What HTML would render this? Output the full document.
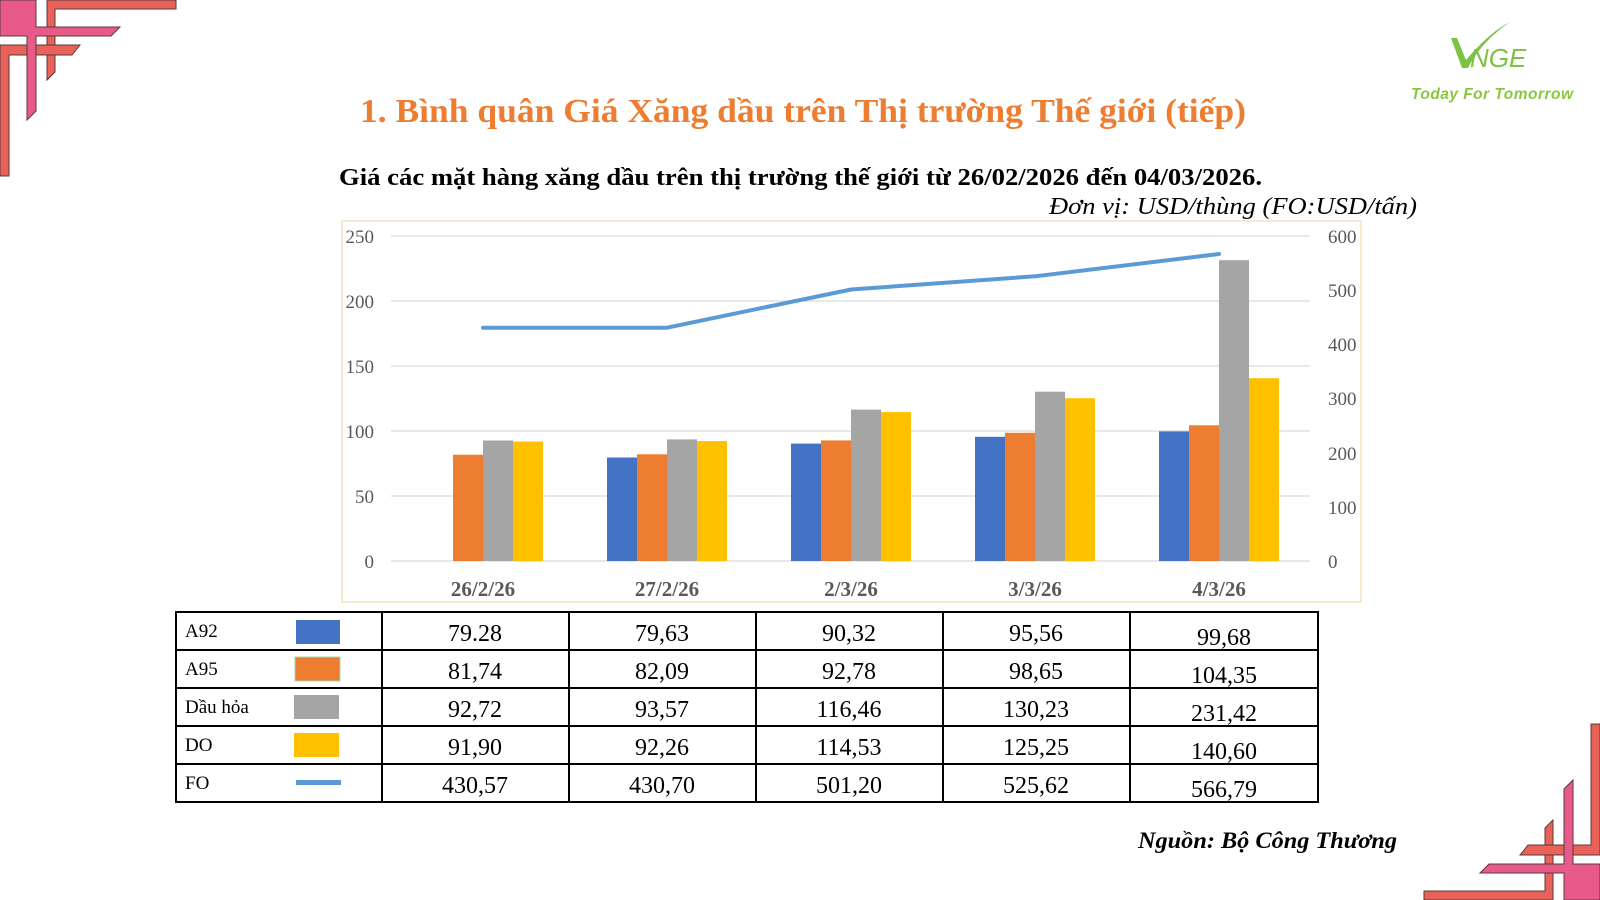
<!DOCTYPE html>
<html><head><meta charset="utf-8"><style>
html,body{margin:0;padding:0;background:#fff;}
svg{display:block;}
text{font-family:"Liberation Serif","DejaVu Serif",serif;}
</style></head><body>
<svg width="1600" height="900" viewBox="0 0 1600 900" xmlns="http://www.w3.org/2000/svg">
<defs>
<g id="corner" stroke="#5a3a3a" stroke-width="1">
  <polygon points="47,0 176,0 176,9 55,9 55,72 47,80" fill="#E8625A"/>
  <polygon points="0,45 80,45 72,55 9,55 9,176 0,176" fill="#E8625A"/>
  <polygon points="0,0 36,0 36,27 120,27 111,36 36,36 36,111 27,120 27,36 0,36 0,0 M9,9 L9,27 L27,27 L27,9 Z" fill="#E85A8A" fill-rule="evenodd"/>
</g>
</defs>
<use href="#corner"/>
<use href="#corner" transform="rotate(180 800 450)"/>

<!-- logo -->
<path d="M1451,38 L1462,68 L1468,68 C1478,48 1495,32 1510,22 C1494,30 1480,44 1466,60 L1457,38 Z" fill="#7DC243"/>
<text x="1470" y="67" font-size="26" font-style="italic" fill="#7DC243" style="font-family:'Liberation Sans',sans-serif">NGE</text>
<text x="1411" y="99" font-size="15.5" font-weight="bold" font-style="italic" fill="#8CC63F" textLength="162" style="font-family:'Liberation Sans',sans-serif">Today For Tomorrow</text>

<!-- titles -->
<text x="360" y="122" font-size="34" font-weight="bold" fill="#ED7D31" textLength="886" lengthAdjust="spacingAndGlyphs">1. Bình quân Giá Xăng dầu trên Thị trường Thế giới (tiếp)</text>
<text x="339" y="185" font-size="24.5" font-weight="bold" fill="#000" textLength="923" lengthAdjust="spacingAndGlyphs">Giá các mặt hàng xăng dầu trên thị trường thế giới từ 26/02/2026 đến 04/03/2026.</text>
<text x="1049" y="214" font-size="24.5" font-style="italic" fill="#000" textLength="368" lengthAdjust="spacingAndGlyphs">Đơn vị: USD/thùng (FO:USD/tấn)</text>

<!-- chart box -->
<rect x="342" y="221" width="1019" height="381" fill="#fff" stroke="#F2E3B8" stroke-width="1.5"/>
<g stroke="#D9D9D9" stroke-width="1.3">
<line x1="391" y1="236" x2="1310" y2="236"/>
<line x1="391" y1="301" x2="1310" y2="301"/>
<line x1="391" y1="366" x2="1310" y2="366"/>
<line x1="391" y1="431" x2="1310" y2="431"/>
<line x1="391" y1="496" x2="1310" y2="496"/>
<line x1="391" y1="561" x2="1310" y2="561"/>
</g>
<g font-size="19" fill="#595959" text-anchor="end">
<text x="374" y="243">250</text><text x="374" y="308">200</text><text x="374" y="373">150</text>
<text x="374" y="438">100</text><text x="374" y="503">50</text><text x="374" y="568">0</text>
</g>
<g font-size="19" fill="#595959">
<text x="1328" y="243">600</text><text x="1328" y="297">500</text><text x="1328" y="351">400</text>
<text x="1328" y="405">300</text><text x="1328" y="460">200</text><text x="1328" y="514">100</text><text x="1328" y="568">0</text>
</g>
<g>
<rect x="453" y="454.7" width="30" height="106.3" fill="#ED7D31"/>
<rect x="483" y="440.5" width="30" height="120.5" fill="#A5A5A5"/>
<rect x="513" y="441.5" width="30" height="119.5" fill="#FFC000"/>
<rect x="607" y="457.5" width="30" height="103.5" fill="#4472C4"/>
<rect x="637" y="454.3" width="30" height="106.7" fill="#ED7D31"/>
<rect x="667" y="439.4" width="30" height="121.6" fill="#A5A5A5"/>
<rect x="697" y="441.1" width="30" height="119.9" fill="#FFC000"/>
<rect x="791" y="443.6" width="30" height="117.4" fill="#4472C4"/>
<rect x="821" y="440.4" width="30" height="120.6" fill="#ED7D31"/>
<rect x="851" y="409.6" width="30" height="151.4" fill="#A5A5A5"/>
<rect x="881" y="412.1" width="30" height="148.9" fill="#FFC000"/>
<rect x="975" y="436.8" width="30" height="124.2" fill="#4472C4"/>
<rect x="1005" y="432.8" width="30" height="128.2" fill="#ED7D31"/>
<rect x="1035" y="391.7" width="30" height="169.3" fill="#A5A5A5"/>
<rect x="1065" y="398.2" width="30" height="162.8" fill="#FFC000"/>
<rect x="1159" y="431.4" width="30" height="129.6" fill="#4472C4"/>
<rect x="1189" y="425.3" width="30" height="135.7" fill="#ED7D31"/>
<rect x="1219" y="260.2" width="30" height="300.8" fill="#A5A5A5"/>
<rect x="1249" y="378.2" width="30" height="182.8" fill="#FFC000"/>
</g>
<polyline points="483,327.8 667,327.7 851,289.5 1035,276.3 1219,254" fill="none" stroke="#5B9BD5" stroke-width="4" stroke-linejoin="round" stroke-linecap="round"/>
<g font-size="21" font-weight="bold" fill="#595959" text-anchor="middle">
<text x="483" y="596">26/2/26</text><text x="667" y="596">27/2/26</text><text x="851" y="596">2/3/26</text>
<text x="1035" y="596">3/3/26</text><text x="1219" y="596">4/3/26</text>
</g>

<!-- table -->
<g stroke="#000" stroke-width="2" fill="none">
<rect x="176" y="612" width="1142" height="190"/>
<line x1="176" y1="650" x2="1318" y2="650"/><line x1="176" y1="688" x2="1318" y2="688"/>
<line x1="176" y1="726" x2="1318" y2="726"/><line x1="176" y1="764" x2="1318" y2="764"/>
<line x1="382" y1="612" x2="382" y2="802"/><line x1="569" y1="612" x2="569" y2="802"/>
<line x1="756" y1="612" x2="756" y2="802"/><line x1="943" y1="612" x2="943" y2="802"/>
<line x1="1130" y1="612" x2="1130" y2="802"/>
</g>
<rect x="296" y="620" width="44" height="24" fill="#4472C4"/>
<rect x="295" y="657" width="45" height="24" fill="#ED7D31" stroke="#a8d8a8" stroke-width="1"/>
<rect x="294" y="695" width="45" height="24" fill="#A5A5A5"/>
<rect x="294" y="733" width="45" height="24" fill="#FFC000"/>
<rect x="296" y="780" width="45" height="5" fill="#5B9BD5"/>
<g font-size="19" fill="#000">
<text x="185" y="637">A92</text><text x="185" y="675">A95</text><text x="185" y="713">Dầu hỏa</text>
<text x="185" y="751">DO</text><text x="185" y="789">FO</text>
</g>
<g font-size="24" fill="#000" text-anchor="middle">
<text x="475" y="641">79.28</text><text x="662" y="641">79,63</text><text x="849" y="641">90,32</text><text x="1036" y="641">95,56</text><text x="1224" y="645">99,68</text>
<text x="475" y="679">81,74</text><text x="662" y="679">82,09</text><text x="849" y="679">92,78</text><text x="1036" y="679">98,65</text><text x="1224" y="683">104,35</text>
<text x="475" y="717">92,72</text><text x="662" y="717">93,57</text><text x="849" y="717">116,46</text><text x="1036" y="717">130,23</text><text x="1224" y="721">231,42</text>
<text x="475" y="755">91,90</text><text x="662" y="755">92,26</text><text x="849" y="755">114,53</text><text x="1036" y="755">125,25</text><text x="1224" y="759">140,60</text>
<text x="475" y="793">430,57</text><text x="662" y="793">430,70</text><text x="849" y="793">501,20</text><text x="1036" y="793">525,62</text><text x="1224" y="797">566,79</text>
</g>
<text x="1138" y="848" font-size="23" font-weight="bold" font-style="italic" fill="#000" textLength="259" lengthAdjust="spacingAndGlyphs">Nguồn: Bộ Công Thương</text>
</svg>
</body></html>
